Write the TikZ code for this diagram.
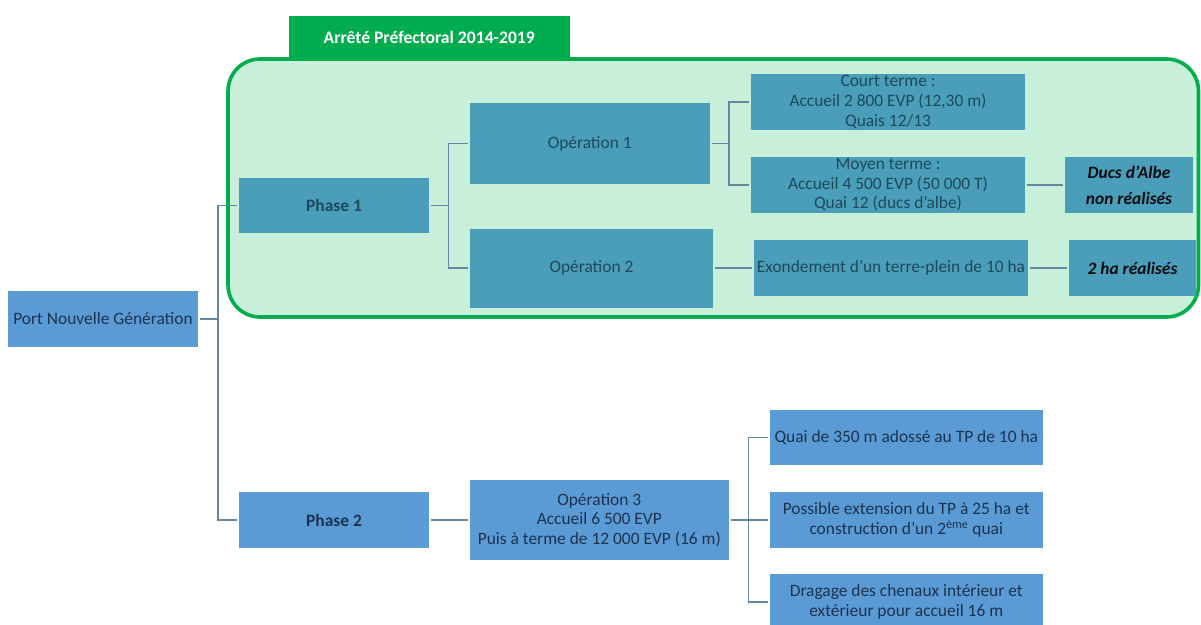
\documentclass[tikz,border=0pt]{standalone}
\usepackage{fontspec}
\setmainfont{Carlito}
\definecolor{teal1}{HTML}{4A9EBA}
\definecolor{blue1}{HTML}{5B9BD5}
\definecolor{tealtxt}{HTML}{1D4A5A}
\definecolor{bluetxt}{HTML}{1C3350}
\definecolor{gfill}{HTML}{C8EFDA}
\definecolor{gline}{HTML}{00AD4E}
\definecolor{conn}{HTML}{6687A2}
\tikzset{
  box/.style={rectangle, inner sep=0pt, outer sep=0pt, align=center, font=\fontsize{17.4}{19.6}\selectfont},
  tealbox/.style={box, fill=teal1, text=tealtxt},
  bluebox/.style={box, fill=blue1, text=bluetxt},
  link/.style={draw=conn, line width=1.4pt, shorten <=2pt, shorten >=2pt},
}
\begin{document}
\begin{tikzpicture}[x=1pt,y=-1pt]
\useasboundingbox (0,0) rectangle (1201,624);
\clip (0,0) rectangle (1201,624);
% container
\draw[gline, fill=gfill, line width=3.6pt, rounded corners=32pt] (228,59) rectangle (1198.5,317);
\node[fill=gline, inner sep=0pt, minimum width=281.5pt, minimum height=43pt, text=white, font=\fontsize{17.6}{20}\selectfont\bfseries] (tab) at (429.25,37) {Arrêté Préfectoral 2014-2019};
% boxes
\node[bluebox, minimum width=190pt, minimum height=56pt] (port) at (103,319) {Port Nouvelle Génération};
\node[tealbox, minimum width=190pt, minimum height=55pt, font=\fontsize{17.4}{19.6}\selectfont\bfseries] (p1) at (334,205.5) {Phase 1};
\node[bluebox, minimum width=190pt, minimum height=56pt, font=\fontsize{17.4}{19.6}\selectfont\bfseries] (p2) at (334,520) {Phase 2};
\node[tealbox, minimum width=239.5pt, minimum height=81pt] (op1) at (589.75,143.5) {Opération 1};
\node[tealbox, minimum width=243pt, minimum height=79pt] (op2) at (591.5,268) {Opération 2};
\node[bluebox, minimum width=258.6pt, minimum height=80pt] (op3) at (599.3,520) {Opération 3\\Accueil 6 500 EVP\\Puis à terme de 12 000 EVP (16 m)};
\node[tealbox, minimum width=274pt, minimum height=56pt] (court) at (888,102) {Court terme :\\Accueil 2 800 EVP (12,30 m)\\Quais 12/13};
\node[tealbox, minimum width=274pt, minimum height=56pt] (moyen) at (888,185) {Moyen terme :\\Accueil 4 500 EVP (50 000 T)\\Quai 12 (ducs d’albe)};
\node[tealbox, minimum width=128pt, minimum height=56pt, font=\fontsize{17.4}{26}\selectfont\bfseries\itshape, text=black!85!tealtxt] (ducs) at (1129,185) {Ducs d’Albe\\non réalisés};
\node[tealbox, minimum width=274pt, minimum height=56pt] (exond) at (891,268) {Exondement d’un terre-plein de 10 ha};
\node[tealbox, minimum width=127pt, minimum height=56pt, font=\fontsize{17.4}{19.6}\selectfont\bfseries\itshape, text=black!85!tealtxt] (ha) at (1132.5,268) {2 ha réalisés};
\node[bluebox, minimum width=273.5pt, minimum height=55pt] (quai) at (906.25,437.5) {Quai de 350 m adossé au TP de 10 ha};
\node[bluebox, minimum width=273.5pt, minimum height=56pt] (poss) at (906.25,520) {Possible extension du TP à 25 ha et\\construction d’un 2\textsuperscript{ème} quai};
\node[bluebox, minimum width=273.5pt, minimum height=56pt] (drag) at (906.25,602) {Dragage des chenaux intérieur et\\extérieur pour accueil 16 m};
% connectors
\coordinate (j0) at (218,319);
\coordinate (j1) at (448.5,205.5);
\coordinate (j2) at (729,143.5);
\coordinate (j3) at (748.5,520);
\draw[link, shorten >=0pt] (port.east) -- (j0);
\draw[link, shorten <=0pt] (j0) |- (p1.west);
\draw[link, shorten <=0pt] (j0) |- (p2.west);
\draw[link, shorten >=0pt] (p1.east) -- (j1);
\draw[link, shorten <=0pt] (j1) |- (op1.west);
\draw[link, shorten <=0pt] (j1) |- (op2.west);
\draw[link, shorten >=0pt] (op1.east) -- (j2);
\draw[link, shorten <=0pt] (j2) |- (court.west);
\draw[link, shorten <=0pt] (j2) |- (moyen.west);
\draw[link] (moyen.east) -- (ducs.west);
\draw[link] (op2.east) -- (exond.west);
\draw[link] (exond.east) -- (ha.west);
\draw[link] (p2.east) -- (op3.west);
\draw[link, shorten >=0pt] (op3.east) -- (j3);
\draw[link, shorten <=0pt] (j3) |- (quai.west);
\draw[link, shorten <=0pt] (j3) |- (poss.west);
\draw[link, shorten <=0pt] (j3) |- (drag.west);
\end{tikzpicture}
\end{document}
